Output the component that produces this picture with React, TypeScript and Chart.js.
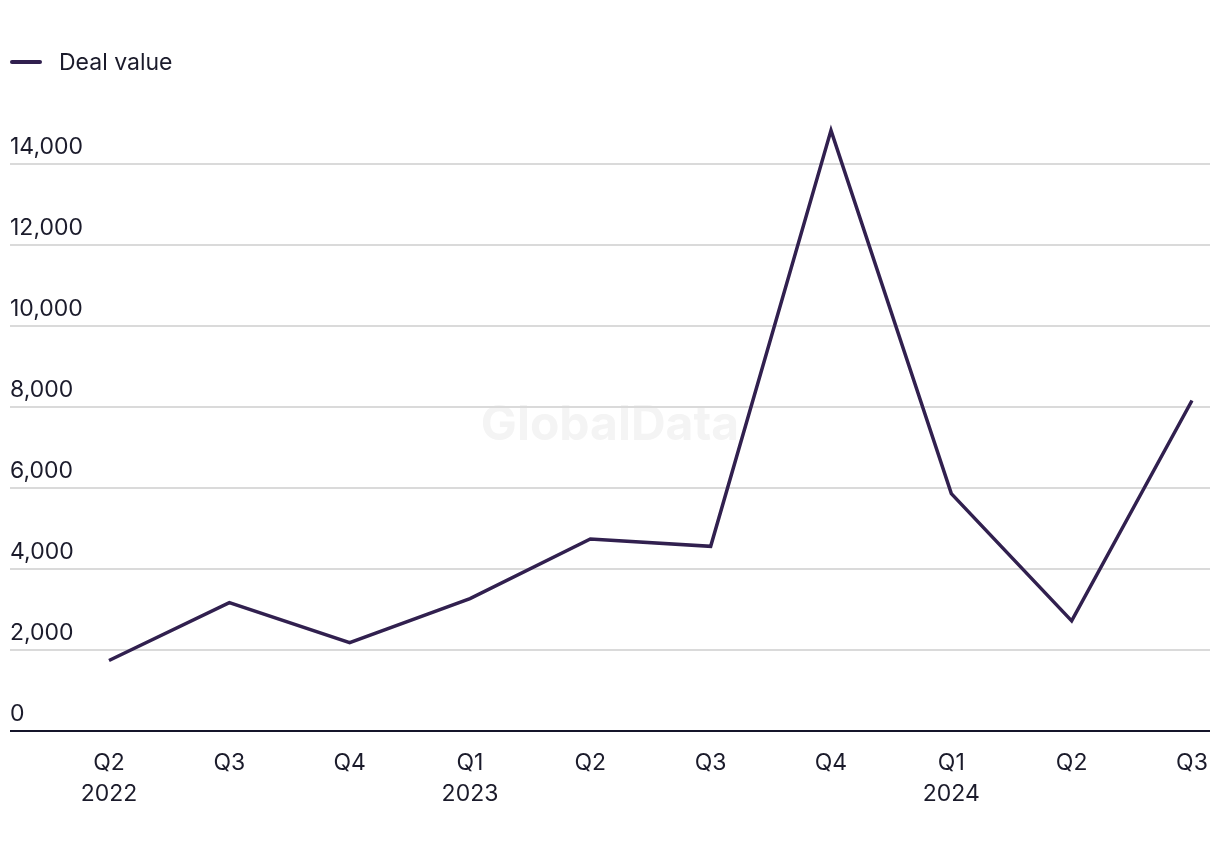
import React, { useEffect, useRef } from 'react';
import { Chart, registerables } from 'chart.js';

Chart.register(...registerables);

const quarters = ['Q2', 'Q3', 'Q4', 'Q1', 'Q2', 'Q3', 'Q4', 'Q1', 'Q2', 'Q3'];
const years = ['2022', '', '', '2023', '', '', '', '2024', '', ''];
const dealValues = [1740, 3170, 2180, 3270, 4740, 4560, 14830, 5860, 2720, 8160];
const yTicks = [0, 2000, 4000, 6000, 8000, 10000, 12000, 14000];
const seriesName = 'Deal value';
const watermarkText = 'GlobalData';

const FONT = 'Inter, "Liberation Sans", Arial, sans-serif';
const TEXT_COLOR = '#1b1b2b';
const LINE_COLOR = '#31204f';

const decorPlugin = {
  id: 'decor',
  beforeDatasetsDraw(chart: any) {
    const ctx = chart.ctx;
    const y = chart.scales.y;
    ctx.save();
    // watermark
    ctx.font = `bold 48px ${FONT}`;
    ctx.fillStyle = '#f4f4f4';
    ctx.textAlign = 'center';
    ctx.textBaseline = 'middle';
    ctx.fillText(watermarkText, 610, 426);
    // gridlines
    yTicks.forEach((v) => {
      const py = Math.round(y.getPixelForValue(v));
      ctx.beginPath();
      ctx.strokeStyle = v === 0 ? '#15152a' : '#dadada';
      ctx.lineWidth = 2;
      ctx.moveTo(10, py);
      ctx.lineTo(1210, py);
      ctx.stroke();
    });
    ctx.restore();
  },
  afterDraw(chart: any) {
    const ctx = chart.ctx;
    const y = chart.scales.y;
    ctx.save();
    ctx.font = `23px ${FONT}`;
    ctx.fillStyle = TEXT_COLOR;
    ctx.textAlign = 'left';
    ctx.textBaseline = 'alphabetic';
    yTicks.forEach((v) => {
      const py = y.getPixelForValue(v);
      ctx.fillText(v.toLocaleString('en-US'), 10, py - 10);
    });
    // legend
    ctx.strokeStyle = LINE_COLOR;
    ctx.lineWidth = 4;
    ctx.lineCap = 'round';
    ctx.beginPath();
    ctx.moveTo(12, 62);
    ctx.lineTo(40, 62);
    ctx.stroke();
    ctx.textBaseline = 'middle';
    ctx.fillText(seriesName, 59, 63);
    ctx.restore();
  },
};

export default function App() {
  const canvasRef = useRef<HTMLCanvasElement | null>(null);

  useEffect(() => {
    if (!canvasRef.current) return;
    const labels = quarters.map((q, i) => (years[i] ? [q, years[i]] : [q]));
    const chart = new Chart(canvasRef.current, {
      type: 'line',
      data: {
        labels,
        datasets: [
          {
            label: seriesName,
            data: dealValues,
            borderColor: LINE_COLOR,
            backgroundColor: LINE_COLOR,
            borderWidth: 3.5,
            pointRadius: 0,
            pointHoverRadius: 0,
            tension: 0,
            fill: false,
          },
        ],
      },
      options: {
        responsive: false,
        animation: false,
        layout: { padding: { top: 83, left: 109, right: 28, bottom: 23 } },
        plugins: {
          legend: { display: false },
          tooltip: { enabled: false },
        },
        scales: {
          x: {
            type: 'category',
            offset: false,
            grid: { display: false, drawTicks: false },
            border: { display: false },
            ticks: {
              color: TEXT_COLOR,
              font: { family: FONT, size: 23, lineHeight: 31 / 23 },
              padding: 17,
              maxRotation: 0,
              autoSkip: false,
            },
            afterFit(scale: any) {
              scale.paddingLeft = 0;
              scale.paddingRight = 0;
            },
          },
          y: {
            display: false,
            min: 0,
            max: 16000,
          },
        },
      },
      plugins: [decorPlugin],
    });
    return () => chart.destroy();
  }, []);

  return (
    <div style={{ position: 'absolute', left: 0, top: 0, width: 1220, height: 850, background: '#fff' }}>
      <canvas ref={canvasRef} width={1220} height={850} />
    </div>
  );
}
